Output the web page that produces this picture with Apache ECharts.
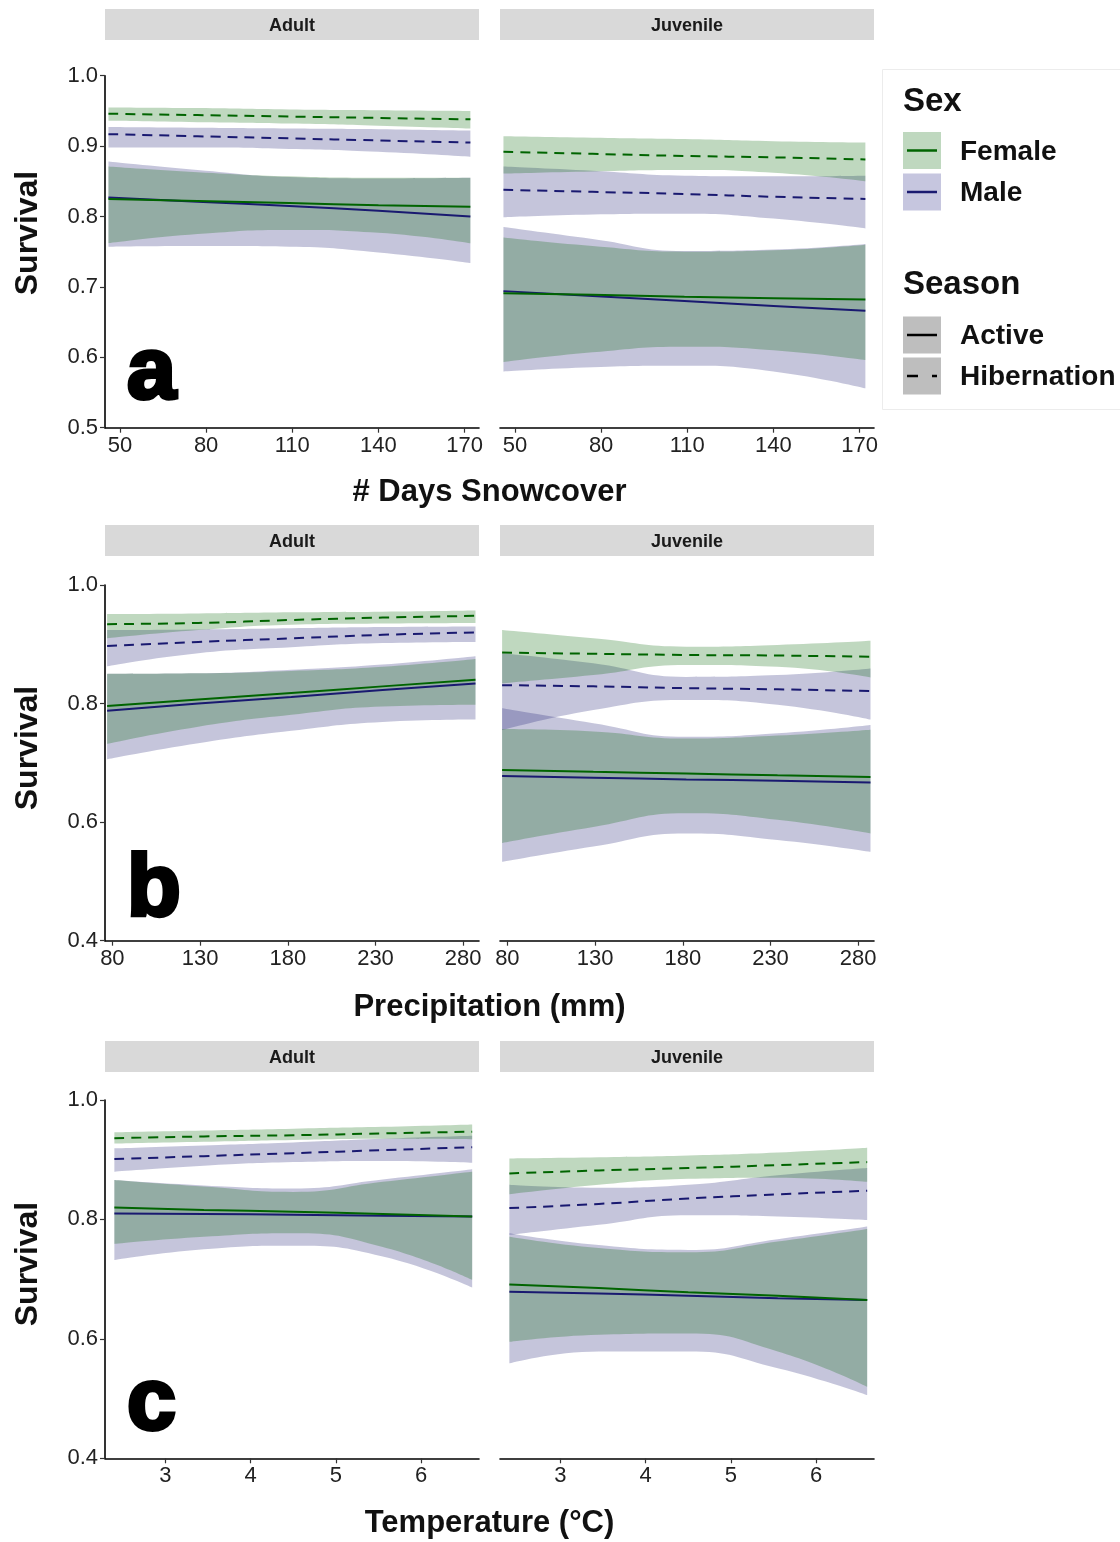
<!DOCTYPE html>
<html>
<head>
<meta charset="utf-8">
<title>Survival by covariate, sex and season</title>
<script src="https://cdn.jsdelivr.net/npm/echarts@6.0.0/dist/echarts.min.js"></script>
<style>
  html, body { margin: 0; padding: 0; background: #ffffff; }
  #chart { width: 1120px; height: 1542px; }
</style>
</head>
<body>
<div id="chart"></div>
<script>
// ---------------- DATA (each row: [estimate, lower CI, upper CI]) ----------------
// Panel a: # Days Snowcover
const snowX = [46, 77, 109, 140, 172];
const snowTicks = [50, 80, 110, 140, 170];
const snowAdultFemaleActive = [[0.825,0.762,0.871],[0.822,0.775,0.863],[0.819,0.781,0.857],[0.816,0.777,0.855],[0.814,0.762,0.855]];
const snowAdultMaleActive   = [[0.827,0.757,0.878],[0.821,0.758,0.866],[0.815,0.757,0.856],[0.808,0.749,0.854],[0.800,0.734,0.855]];
const snowAdultFemaleHib    = [[0.946,0.936,0.955],[0.944,0.934,0.954],[0.942,0.932,0.952],[0.940,0.929,0.951],[0.938,0.925,0.950]];
const snowAdultMaleHib      = [[0.917,0.898,0.927],[0.914,0.898,0.926],[0.911,0.896,0.925],[0.908,0.892,0.924],[0.905,0.885,0.922]];
const snowJuvFemaleActive   = [[0.691,0.593,0.770],[0.689,0.607,0.758],[0.686,0.615,0.750],[0.684,0.610,0.752],[0.682,0.596,0.760]];
const snowJuvMaleActive     = [[0.694,0.580,0.785],[0.687,0.586,0.768],[0.680,0.588,0.751],[0.673,0.580,0.753],[0.666,0.556,0.761]];
const snowJuvFemaleHib      = [[0.892,0.861,0.914],[0.889,0.864,0.912],[0.886,0.866,0.910],[0.884,0.862,0.907],[0.881,0.850,0.905]];
const snowJuvMaleHib        = [[0.838,0.799,0.871],[0.835,0.803,0.865],[0.832,0.804,0.858],[0.828,0.797,0.857],[0.825,0.783,0.858]];

// Panel b: Precipitation (mm)
const precipX = [77, 129, 182, 234, 287];
const precipTicks = [80, 130, 180, 230, 280];
const precipAdultFemaleActive = [[0.796,0.732,0.850],[0.807,0.761,0.851],[0.818,0.781,0.855],[0.829,0.795,0.862],[0.840,0.798,0.875]];
const precipAdultMaleActive   = [[0.788,0.706,0.850],[0.800,0.733,0.851],[0.811,0.754,0.857],[0.823,0.769,0.866],[0.834,0.773,0.880]];
const precipAdultFemaleHib    = [[0.934,0.910,0.951],[0.936,0.924,0.952],[0.941,0.933,0.954],[0.945,0.935,0.955],[0.948,0.936,0.957]];
const precipAdultMaleHib      = [[0.897,0.863,0.924],[0.904,0.885,0.925],[0.910,0.895,0.927],[0.916,0.902,0.929],[0.920,0.904,0.930]];
const precipJuvFemaleActive   = [[0.688,0.565,0.757],[0.685,0.592,0.753],[0.682,0.615,0.741],[0.679,0.604,0.746],[0.676,0.581,0.756]];
const precipJuvMaleActive     = [[0.678,0.533,0.792],[0.675,0.559,0.767],[0.672,0.581,0.744],[0.670,0.570,0.750],[0.667,0.550,0.764]];
const precipJuvFemaleHib      = [[0.886,0.834,0.924],[0.884,0.848,0.910],[0.882,0.865,0.896],[0.881,0.862,0.899],[0.879,0.844,0.906]];
const precipJuvMaleHib        = [[0.831,0.755,0.885],[0.829,0.789,0.868],[0.826,0.806,0.845],[0.824,0.798,0.848],[0.821,0.773,0.859]];

// Panel c: Temperature (°C)
const tempX = [2.4, 3.45, 4.5, 5.55, 6.6];
const tempTicks = [3, 4, 5, 6];
const tempAdultFemaleActive = [[0.820,0.759,0.866],[0.816,0.771,0.855],[0.813,0.777,0.846],[0.809,0.754,0.863],[0.805,0.699,0.880]];
const tempAdultMaleActive   = [[0.810,0.732,0.866],[0.809,0.750,0.857],[0.808,0.756,0.852],[0.806,0.738,0.867],[0.805,0.686,0.884]];
const tempAdultFemaleHib    = [[0.936,0.927,0.946],[0.939,0.930,0.949],[0.941,0.933,0.952],[0.944,0.935,0.955],[0.947,0.934,0.959]];
const tempAdultMaleHib      = [[0.901,0.880,0.919],[0.906,0.890,0.924],[0.911,0.896,0.929],[0.916,0.898,0.935],[0.921,0.895,0.940]];
const tempJuvFemaleActive   = [[0.691,0.595,0.771],[0.685,0.607,0.752],[0.678,0.609,0.745],[0.672,0.579,0.763],[0.665,0.520,0.784]];
const tempJuvMaleActive     = [[0.679,0.559,0.777],[0.676,0.579,0.757],[0.672,0.579,0.749],[0.668,0.551,0.767],[0.665,0.506,0.788]];
const tempJuvFemaleHib      = [[0.877,0.842,0.902],[0.882,0.858,0.904],[0.886,0.868,0.907],[0.891,0.870,0.912],[0.896,0.863,0.920]];
const tempJuvMaleHib        = [[0.819,0.774,0.858],[0.826,0.791,0.853],[0.835,0.807,0.858],[0.842,0.805,0.874],[0.848,0.799,0.886]];

const facetLabels = ['Adult', 'Juvenile'];
const xTitles = ['# Days Snowcover', 'Precipitation (mm)', 'Temperature (°C)'];
const panelLetters = ['a', 'b', 'c'];
const yTitle = 'Survival';
const sexLabels = ['Female', 'Male'];
const seasonLabels = ['Active', 'Hibernation'];

// ---------------- STYLE / LAYOUT ----------------
const FONT = '"Liberation Sans", Arial, Helvetica, sans-serif';
const FEMALE_LINE = '#006400';
const MALE_LINE = '#191970';
const FEMALE_FILL = 'rgba(0,100,0,0.25)';
const MALE_FILL = 'rgba(25,25,112,0.25)';
const SMOOTH = 0.5;

const rowLayout = [
  { top: 75.7, height: 352.0, stripY: 9,    titleY: 492,  survY: 233,  letterY: 374 },
  { top: 585,  height: 355.7, stripY: 525,  titleY: 1007, survY: 748,  letterY: 891 },
  { top: 1100, height: 358.3, stripY: 1041, titleY: 1523, survY: 1264, letterY: 1405 }
];
const colLayout = [ { left: 105, width: 374 }, { left: 500, width: 374 } ];
const xScale = [
  { min: 44.8, max: 175,  ticks: snowTicks },
  { min: 75.8, max: 289,  ticks: precipTicks },
  { min: 2.29, max: 6.68, ticks: tempTicks }
];
const yScale = [
  { min: 0.5, max: 1.0, interval: 0.1 },
  { min: 0.4, max: 1.0, interval: 0.2 },
  { min: 0.4, max: 1.0, interval: 0.2 }
];

const panels = [
  { row: 0, col: 0, x: snowX, fa: snowAdultFemaleActive, ma: snowAdultMaleActive, fh: snowAdultFemaleHib, mh: snowAdultMaleHib },
  { row: 0, col: 1, x: snowX, fa: snowJuvFemaleActive,   ma: snowJuvMaleActive,   fh: snowJuvFemaleHib,   mh: snowJuvMaleHib },
  { row: 1, col: 0, x: precipX, fa: precipAdultFemaleActive, ma: precipAdultMaleActive, fh: precipAdultFemaleHib, mh: precipAdultMaleHib },
  { row: 1, col: 1, x: precipX, fa: precipJuvFemaleActive,   ma: precipJuvMaleActive,   fh: precipJuvFemaleHib,   mh: precipJuvMaleHib },
  { row: 2, col: 0, x: tempX, fa: tempAdultFemaleActive, ma: tempAdultMaleActive, fh: tempAdultFemaleHib, mh: tempAdultMaleHib },
  { row: 2, col: 1, x: tempX, fa: tempJuvFemaleActive,   ma: tempJuvMaleActive,   fh: tempJuvFemaleHib,   mh: tempJuvMaleHib }
];

const grids = [], xAxes = [], yAxes = [], series = [];

// Data rows are written as [survival, x] with encode so that the stacked
// dimension is the survival (y) value, not the x value.
function ribbon(gi, xs, rows, fill, id) {
  const stack = 'band_' + gi + '_' + id;
  series.push({
    type: 'line', xAxisIndex: gi, yAxisIndex: gi, stack: stack, smooth: SMOOTH,
    symbol: 'none', silent: true, lineStyle: { opacity: 0, width: 0 },
    encode: { x: 1, y: 0 },
    data: xs.map((x, i) => [rows[i][1], x]), z: 1
  });
  series.push({
    type: 'line', xAxisIndex: gi, yAxisIndex: gi, stack: stack, smooth: SMOOTH,
    symbol: 'none', silent: true, lineStyle: { opacity: 0, width: 0 },
    areaStyle: { color: fill, opacity: 1 },
    encode: { x: 1, y: 0 },
    data: xs.map((x, i) => [rows[i][2] - rows[i][1], x]), z: 1
  });
}
function estLine(gi, xs, rows, color, dashed) {
  series.push({
    type: 'line', xAxisIndex: gi, yAxisIndex: gi, smooth: SMOOTH,
    symbol: 'none', silent: true,
    lineStyle: { color: color, width: 2, type: dashed ? [10, 7] : 'solid', cap: 'butt' },
    data: xs.map((x, i) => [x, rows[i][0]]), z: 3
  });
}

panels.forEach((p, gi) => {
  const r = rowLayout[p.row], c = colLayout[p.col];
  grids.push({ left: c.left, top: r.top, width: c.width, height: r.height,
               containLabel: false, outerBoundsMode: 'none', show: false });
  const xs = xScale[p.row], ys = yScale[p.row];
  xAxes.push({
    gridIndex: gi, type: 'value', min: xs.min, max: xs.max,
    axisLine: { show: true, onZero: false, lineStyle: { color: '#000', width: 1.6 } },
    axisTick: { show: true, length: 5, customValues: xs.ticks, lineStyle: { color: '#333', width: 1.2 } },
    axisLabel: { customValues: xs.ticks, fontSize: 22, color: '#222', fontFamily: FONT, margin: 7 },
    splitLine: { show: false }
  });
  yAxes.push({
    gridIndex: gi, type: 'value', min: ys.min, max: ys.max, interval: ys.interval,
    show: p.col === 0,
    axisLine: { show: true, onZero: false, lineStyle: { color: '#000', width: 1.6 } },
    axisTick: { show: true, length: 5, lineStyle: { color: '#333', width: 1.2 } },
    axisLabel: { fontSize: 22, color: '#222', fontFamily: FONT, margin: 7,
                 formatter: v => Number(v).toFixed(1) },
    splitLine: { show: false }
  });
  // ribbons: male below, female on top
  ribbon(gi, p.x, p.ma, MALE_FILL, 'ma');
  ribbon(gi, p.x, p.mh, MALE_FILL, 'mh');
  ribbon(gi, p.x, p.fa, FEMALE_FILL, 'fa');
  ribbon(gi, p.x, p.fh, FEMALE_FILL, 'fh');
  estLine(gi, p.x, p.ma, MALE_LINE, false);
  estLine(gi, p.x, p.fa, FEMALE_LINE, false);
  estLine(gi, p.x, p.mh, MALE_LINE, true);
  estLine(gi, p.x, p.fh, FEMALE_LINE, true);
});

// ---------------- GRAPHIC DECORATIONS ----------------
const graphics = [];
rowLayout.forEach((r, ri) => {
  colLayout.forEach((c, ci) => {
    graphics.push({ type: 'rect', shape: { x: c.left, y: r.stripY, width: c.width, height: 31 },
                    style: { fill: '#d9d9d9' }, silent: true });
    graphics.push({ type: 'text', x: c.left + c.width / 2, y: r.stripY + 17,
                    style: { text: facetLabels[ci], font: 'bold 18px ' + FONT, fill: '#1a1a1a',
                             align: 'center', verticalAlign: 'middle', textAlign: 'center', textVerticalAlign: 'middle' } });
  });
  graphics.push({ type: 'text', x: 489.5, y: r.titleY,
                  style: { text: xTitles[ri], font: 'bold 31px ' + FONT, fill: '#111',
                           align: 'center', verticalAlign: 'middle', textAlign: 'center', textVerticalAlign: 'middle' } });
  graphics.push({ type: 'text', x: 28, y: r.survY, rotation: Math.PI / 2,
                  style: { text: yTitle, font: 'bold 32px ' + FONT, fill: '#111',
                           align: 'center', verticalAlign: 'middle', textAlign: 'center', textVerticalAlign: 'middle' } });
  graphics.push({ type: 'text', x: 127, y: r.letterY, z: 10,
                  style: { text: panelLetters[ri], font: '900 88px ' + FONT, fill: '#000', stroke: '#000', lineWidth: 4,
                           align: 'left', verticalAlign: 'middle', textAlign: 'left', textVerticalAlign: 'middle' } });
});

// legend
const LX = 903;
graphics.push({ type: 'rect', shape: { x: 882.5, y: 69.5, width: 260, height: 340 },
                style: { fill: 'none', stroke: '#ececec', lineWidth: 1 }, silent: true });
function legendTitle(text, y) {
  graphics.push({ type: 'text', x: LX, y: y,
                  style: { text: text, font: 'bold 33px ' + FONT, fill: '#111',
                           align: 'left', verticalAlign: 'middle', textAlign: 'left', textVerticalAlign: 'middle' } });
}
function legendKey(y, fill, lineColor, dash, label) {
  graphics.push({ type: 'rect', shape: { x: LX, y: y, width: 38, height: 37 }, style: { fill: fill } });
  graphics.push({ type: 'line', shape: { x1: LX + 4, y1: y + 18.5, x2: LX + 34, y2: y + 18.5 },
                  style: { stroke: lineColor, lineWidth: 2.5, lineDash: dash } });
  graphics.push({ type: 'text', x: LX + 57, y: y + 20,
                  style: { text: label, font: 'bold 28px ' + FONT, fill: '#111',
                           align: 'left', verticalAlign: 'middle', textAlign: 'left', textVerticalAlign: 'middle' } });
}
legendTitle('Sex', 102);
legendKey(132, '#bfd8bf', FEMALE_LINE, null, sexLabels[0]);
legendKey(173.5, '#c6c6df', MALE_LINE, null, sexLabels[1]);
legendTitle('Season', 285);
legendKey(316.5, '#bebebe', '#000', null, seasonLabels[0]);
legendKey(357.5, '#bebebe', '#000', [11, 14], seasonLabels[1]);

const chart = echarts.init(document.getElementById('chart'), null, { renderer: 'canvas' });
chart.setOption({
  backgroundColor: '#ffffff',
  animation: false,
  textStyle: { fontFamily: FONT },
  grid: grids,
  xAxis: xAxes,
  yAxis: yAxes,
  series: series,
  graphic: { elements: graphics }
});
</script>
</body>
</html>
